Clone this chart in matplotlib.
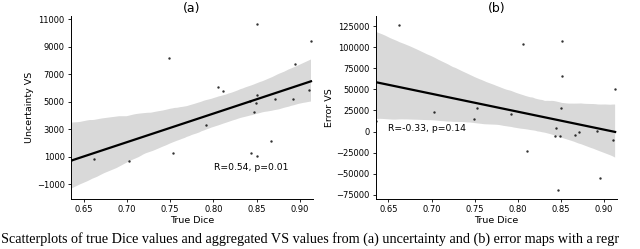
import matplotlib
matplotlib.use('Agg')
import matplotlib.pyplot as plt
import seaborn as sns
import numpy as np

# true Dice (shared by both panels)
true_dice = [0.635, 0.662, 0.703, 0.749, 0.753, 0.792, 0.806, 0.811, 0.843, 0.844,
             0.847, 0.849, 0.850, 0.851, 0.851, 0.867, 0.871, 0.892, 0.895, 0.911, 0.913]
# aggregated VS from uncertainty maps
uncertainty_vs = [750, 840, 717, 8192, 1298, 3286, 6065, 5753, 5049, 1298,
                  4273, 4882, 1058, 10615, 5463, 2125, 5216, 5194, 7713, 5848, 9425]
# aggregated VS from error maps
error_vs = [12700, 127000, 23000, 14400, 28100, 20300, 104500, -23600, -5400, 3800,
            -69800, -5100, 27400, 107200, 65700, -3900, -700, 100, -55200, -10500, 50300]

x_ticks = [0.65, 0.70, 0.75, 0.80, 0.85, 0.90]
unc_ticks = [-1000, 1000, 3000, 5000, 7000, 9000, 11000]
err_ticks = [-75000, -50000, -25000, 0, 25000, 50000, 75000, 100000, 125000]

fig = plt.figure(figsize=(6.4, 2.49), dpi=100)
ax1 = fig.add_axes([0.1109, 0.2008, 0.378, 0.735])
ax2 = fig.add_axes([0.5875, 0.2008, 0.3766, 0.735])

panels = [
    (ax1, uncertainty_vs, 'Uncertainty VS', '(a)', unc_ticks, (-2060, 11220),
     'R=0.54, p=0.01', (0.8003, 200)),
    (ax2, error_vs, 'Error VS', '(b)', err_ticks, (-80150, 137200),
     'R=-0.33, p=0.14', (0.65, 3700)),
]

for ax, yvals, ylabel, title, yt, ylim, note, note_xy in panels:
    sns.regplot(x=np.array(true_dice), y=np.array(yvals), ax=ax, color='black',
                seed=0, scatter_kws={'s': 3, 'linewidths': 0},
                line_kws={'linewidth': 1.6})
    ax.set_xlim(0.6355, 0.9152)
    ax.set_ylim(*ylim)
    ax.set_xticks(x_ticks)
    ax.set_xticklabels(['%.2f' % t for t in x_ticks])
    ax.set_yticks(yt)
    ax.tick_params(labelsize=6, length=2.5, width=0.6, pad=2)
    ax.set_xlabel('True Dice', fontsize=6.8, labelpad=1)
    ax.set_ylabel(ylabel, fontsize=6.8, labelpad=2)
    ax.set_title(title, fontsize=9, pad=3)
    ax.text(note_xy[0], note_xy[1], note, fontsize=6.7, va='center', ha='left')
    for side in ['top', 'right']:
        ax.spines[side].set_visible(False)
    for side in ['left', 'bottom']:
        ax.spines[side].set_linewidth(0.7)

# caption under the figure (only the part visible in the source crop)
fig.text(0.002, 0.024,
         'Scatterplots of true Dice values and aggregated VS values from (a) uncertainty '
         'and (b) error maps with a regr',
         family='Liberation Serif', fontsize=10.2, va='baseline', ha='left')

fig.savefig('out.png', dpi=100)
